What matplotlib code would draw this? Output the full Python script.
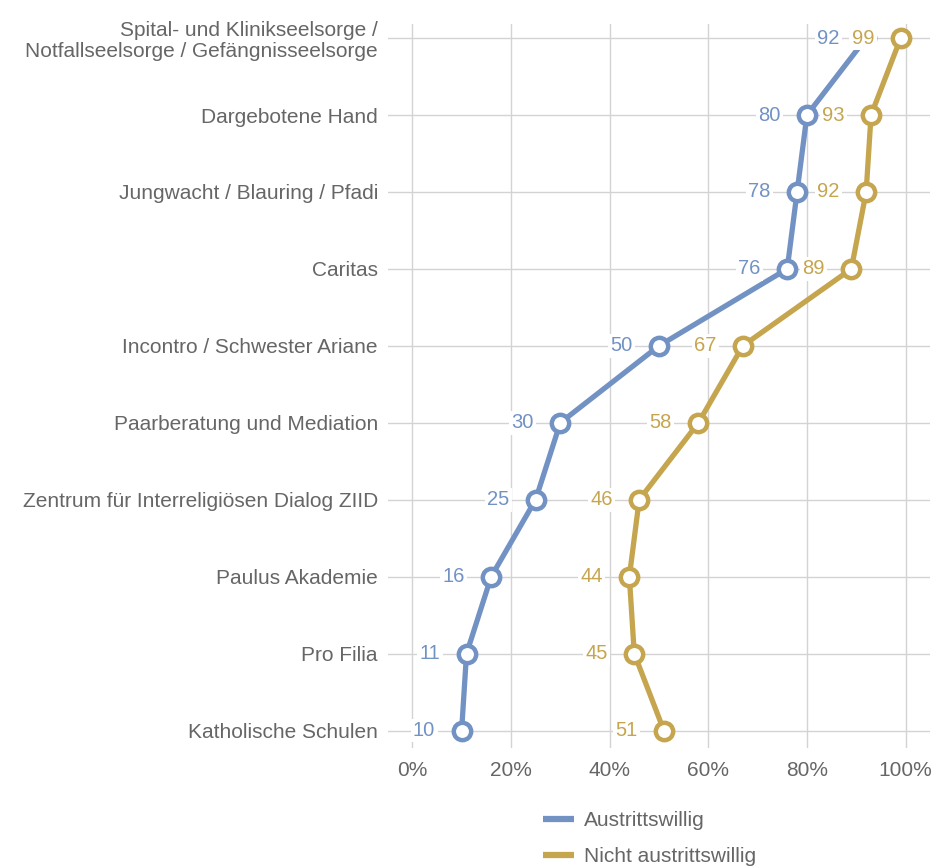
import matplotlib
matplotlib.use("Agg")
import matplotlib.pyplot as plt
from matplotlib.ticker import FuncFormatter

categories = [
    "Spital- und Klinikseelsorge /\nNotfallseelsorge / Gefängnisseelsorge",
    "Dargebotene Hand",
    "Jungwacht / Blauring / Pfadi",
    "Caritas",
    "Incontro / Schwester Ariane",
    "Paarberatung und Mediation",
    "Zentrum für Interreligiösen Dialog ZIID",
    "Paulus Akademie",
    "Pro Filia",
    "Katholische Schulen",
]
austrittswillig = [92, 80, 78, 76, 50, 30, 25, 16, 11, 10]
nicht_austrittswillig = [99, 93, 92, 89, 67, 58, 46, 44, 45, 51]
series_names = ["Austrittswillig", "Nicht austrittswillig"]
x_ticks = [0, 20, 40, 60, 80, 100]

BLUE = "#7292c4"
GOLD = "#c6a54f"
GRID = "#d3d3d3"
TXT = "#666666"

plt.rcParams["font.family"] = ["Liberation Sans", "DejaVu Sans"]

fig = plt.figure(figsize=(9.34, 8.67), dpi=100)
ax = fig.add_axes([0.415, 0.137, 0.581, 0.835])

ypos = list(range(len(categories)))

lines = []
for vals, col, name, z in [(austrittswillig, BLUE, series_names[0], 3),
                           (nicht_austrittswillig, GOLD, series_names[1], 4)]:
    ln, = ax.plot(vals, ypos, color=col, lw=3.8, marker="o", ms=12.5,
                  mfc="white", mec=col, mew=3.2, zorder=z, label=name,
                  solid_capstyle="butt")
    lines.append(ln)

for vals, col, z in [(austrittswillig, BLUE, 5), (nicht_austrittswillig, GOLD, 6)]:
    for v, y in zip(vals, ypos):
        ax.annotate(str(v), xy=(v, y), xytext=(-19, 0), textcoords="offset points",
                    ha="right", va="center", fontsize=14.5, color=col, zorder=z,
                    bbox=dict(boxstyle="square,pad=0.12", fc="white", ec="none"))

ax.set_xlim(-5, 105)
ax.set_ylim(9.23, -0.18)
ax.set_xticks(x_ticks)
ax.xaxis.set_major_formatter(FuncFormatter(lambda v, p: f"{int(v)}%"))
ax.set_yticks(ypos)
ax.set_yticklabels(categories, linespacing=1.15)
ax.tick_params(axis="both", length=0, labelsize=15, colors=TXT)
ax.tick_params(axis="y", pad=7)
ax.tick_params(axis="x", pad=9)
ax.grid(True, color=GRID, lw=1)
ax.set_axisbelow(True)
for s in ax.spines.values():
    s.set_visible(False)

leg = fig.legend(handles=lines, labels=series_names, loc="upper left",
                 bbox_to_anchor=(0.572, 0.074), frameon=False, fontsize=15,
                 labelcolor=TXT, handlelength=1.5, handletextpad=0.5,
                 labelspacing=0.8, borderaxespad=0)
for h in leg.legend_handles:
    h.set_marker("")
    h.set_linewidth(4.5)

fig.savefig("out.png", dpi=100)
